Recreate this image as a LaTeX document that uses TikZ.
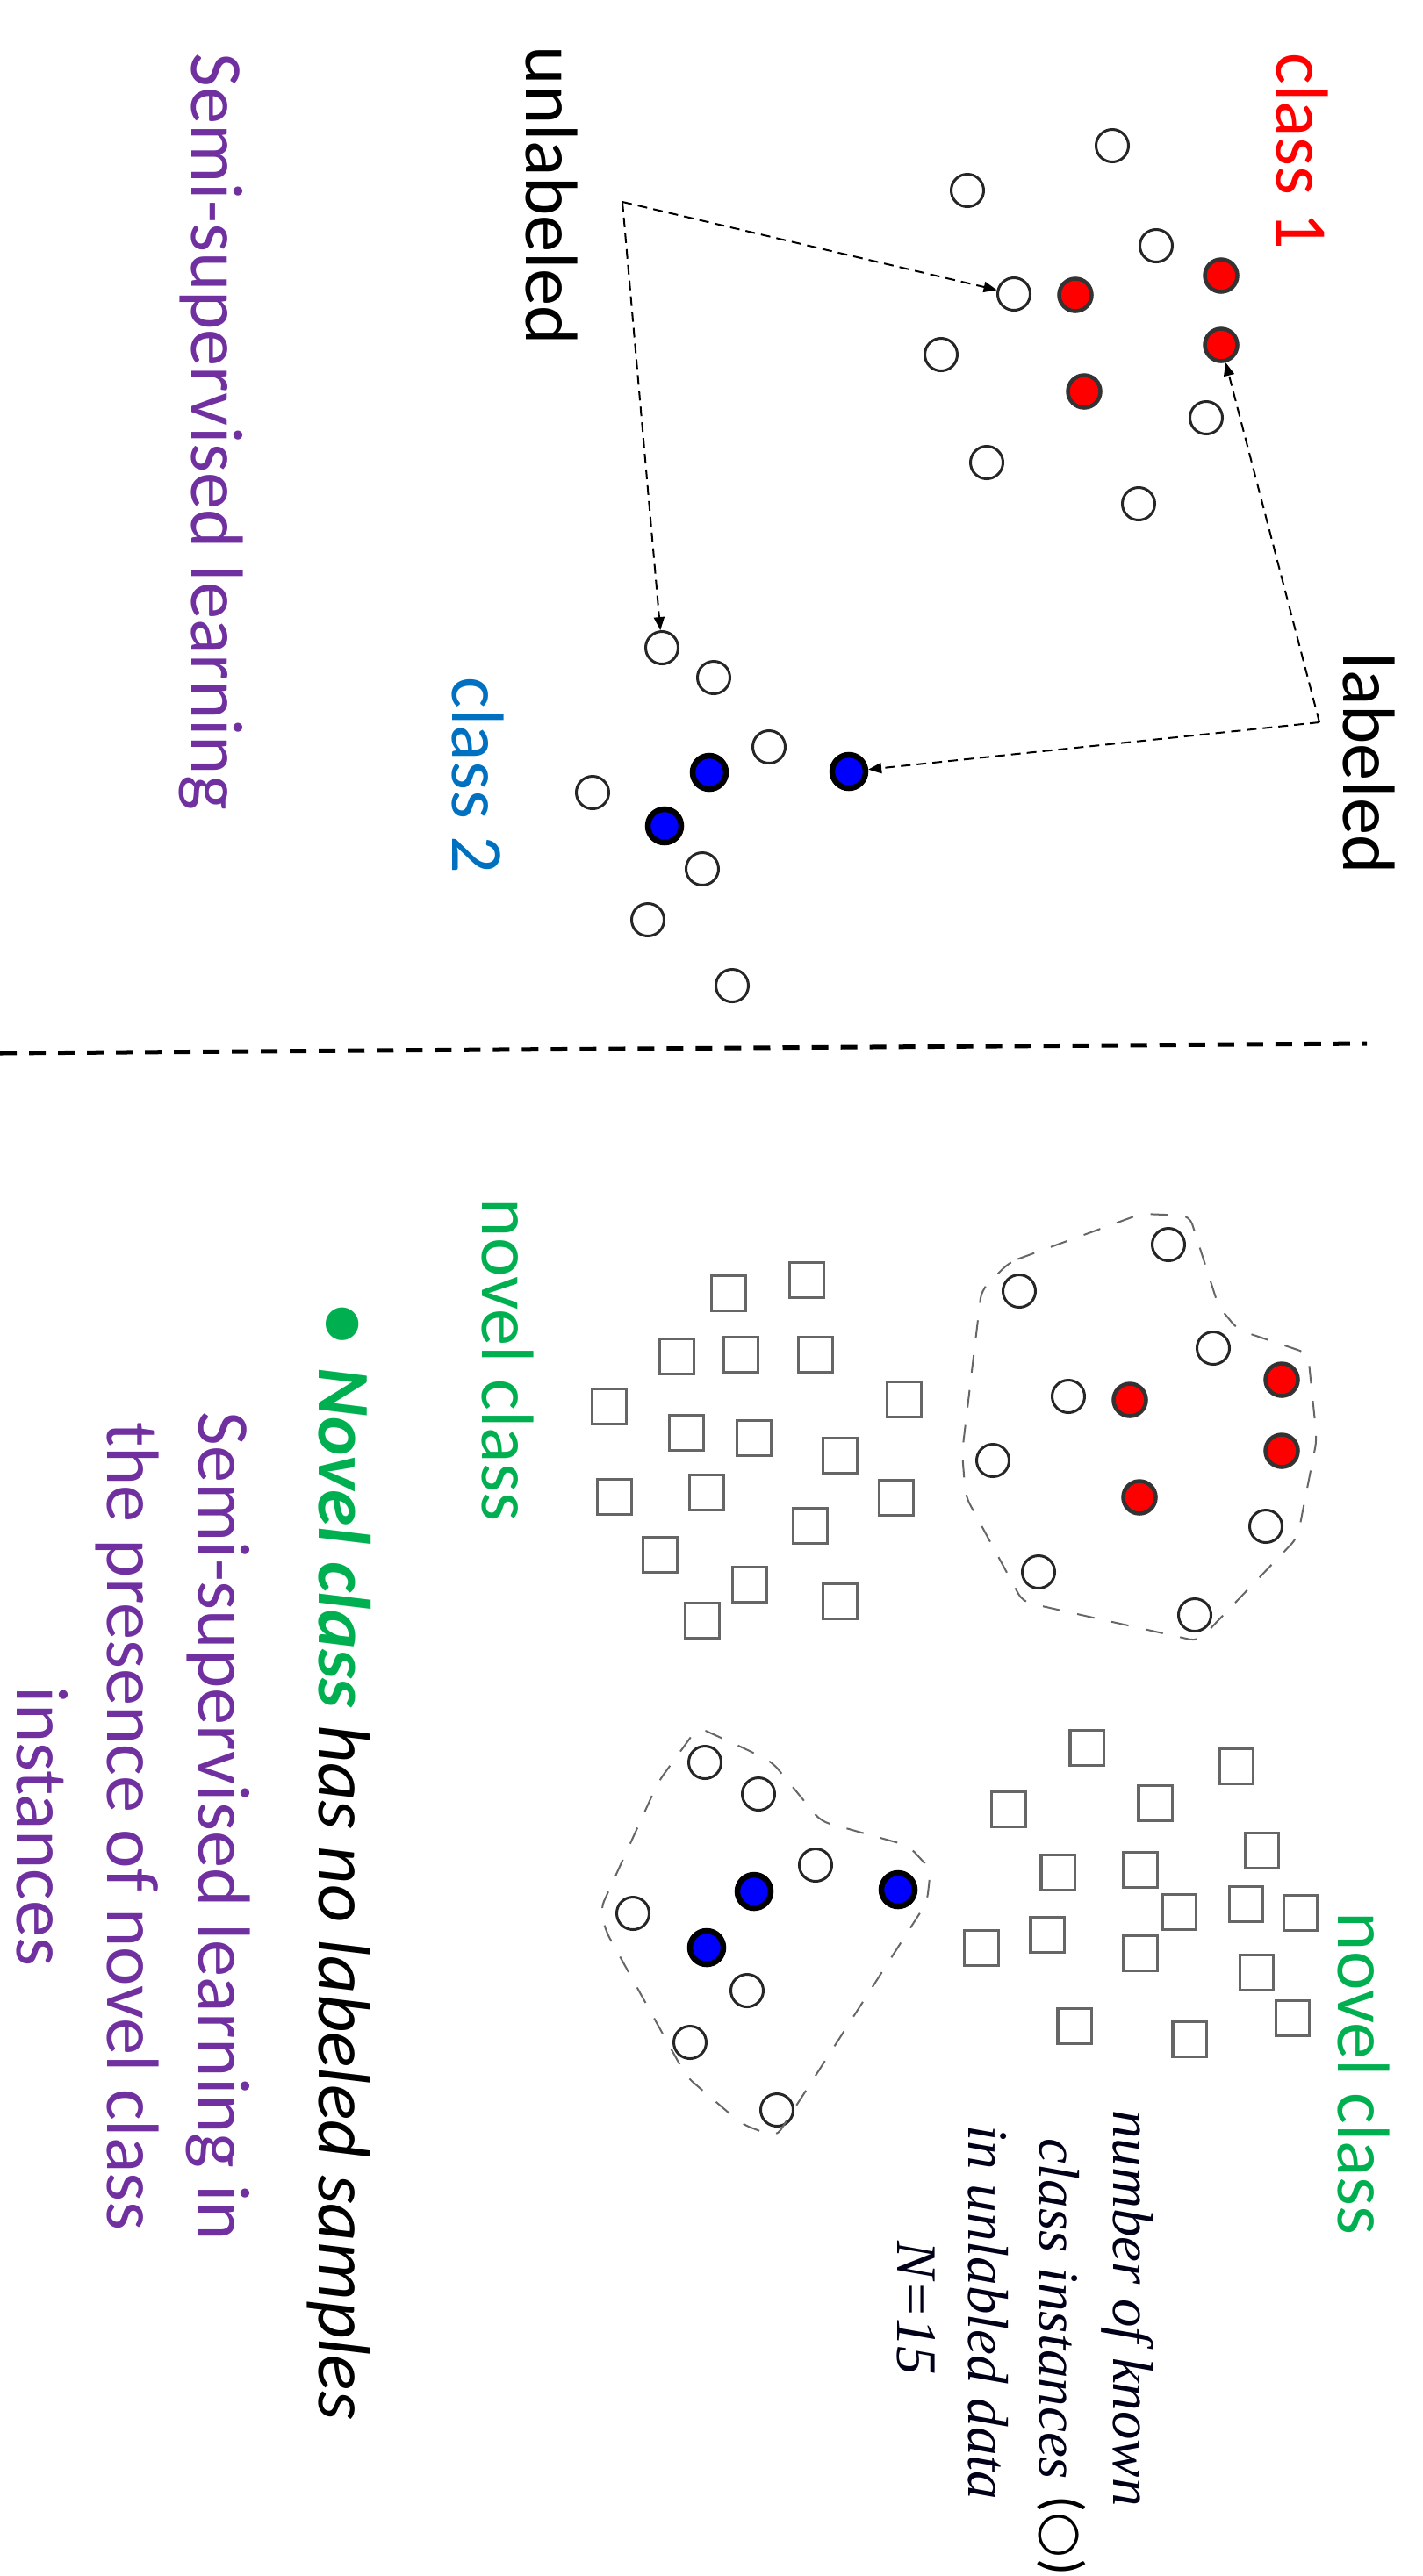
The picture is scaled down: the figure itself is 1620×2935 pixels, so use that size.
\documentclass[tikz,border=0pt]{standalone}
\usepackage{fontspec}
\setmainfont{Carlito}
\newfontfamily\timesfont{Liberation Serif}
\newfontfamily\symfont{DejaVu Sans}
\usepackage{tikz}
\usetikzlibrary{arrows.meta, shapes, positioning}
\definecolor{cred}{RGB}{255,0,0}
\definecolor{cblue}{RGB}{0,112,192}
\definecolor{cpurple}{RGB}{112,48,160}
\definecolor{cgreen}{RGB}{0,176,80}
\tikzstyle{unl}=[circle, draw=black!85, line width=0.03cm, minimum size=0.37cm, inner sep=0pt]
\tikzstyle{cone}=[unl, fill=red, draw=black!80, line width=0.045cm]
\tikzstyle{ctwo}=[unl, fill=blue, draw=black, line width=0.065cm, minimum size=0.38cm]
\tikzstyle{nov}=[rectangle, draw=black!60, line width=0.03cm, minimum width=0.38cm, minimum height=0.40cm, inner sep=0pt]
\tikzstyle{lbl}=[rotate=-90, anchor=base west, inner sep=0pt, font=\fontsize{24}{29.3}\selectfont]
\tikzstyle{lblc}=[lbl, anchor=base]
\tikzstyle{ser}=[rotate=-90, anchor=base, inner sep=0pt, text=black!90!blue, font=\timesfont\itshape\fontsize{18.5}{22}\selectfont]
\tikzstyle{hull}=[draw=black!60, line width=0.02cm, dash pattern=on 0.2cm off 0.2cm, rounded corners=0.1cm]
\tikzstyle{ptr}=[line width=0.02cm, dash pattern=on 0.11cm off 0.07cm, -{Triangle[length=0.15cm, width=0.12cm]}]

\begin{document}
\begin{tikzpicture}[x=0.01cm, y=-0.01cm]
 \useasboundingbox (0,0) rectangle (1620,2935);

 % labels of the upper half
 \node[lbl, text=cred] (c1) at (1454,60) {class 1};
 \node[lbl] (unlab) at (599,52) {unlabeled};
 \node[lbl, text=cpurple] (ssl) at (218,60) {Semi-supervised learning};
 \node[lbl] (lab) at (1530,743) {labeled};
 \node[lbl, text=cblue] (c2) at (515,771) {class 2};

 % class 1 and class 2 points
 \foreach \x/\y [count=\i] in {1267/166, 1102/217, 1317/280, 1155/335, 1072/404, 1374/476, 1124/527, 1297/574}
   \node[unl] (a\i) at (\x,\y) {};
 \foreach \x/\y [count=\i] in {1391/314, 1225/336, 1391/393, 1235/446}
   \node[cone] (r\i) at (\x,\y) {};
 \foreach \x/\y [count=\i] in {754/738, 813/772, 876/851, 675/903, 800/990, 738/1048, 834/1123}
   \node[unl] (b\i) at (\x,\y) {};
 \foreach \x/\y [count=\i] in {967/879, 808/880, 757/941}
   \node[ctwo] (u\i) at (\x,\y) {};

 \coordinate (ul) at (709,230);
 \coordinate (lb) at (1503,823);
 \draw[ptr] (ul) -- (a4);
 \draw[ptr] (ul) -- (b1);
 \draw[ptr] (lb) -- (r3);
 \draw[ptr] (lb) -- (u1);

 \draw[line width=0.05cm, dash pattern=on 0.19cm off 0.14cm] (0,1200) -- (1557,1189);

 % lower half: known classes with their hulls
 \foreach \x/\y [count=\i] in {1331/1418, 1161/1471, 1382/1536, 1217/1591, 1131/1664, 1442/1739, 1183/1791, 1361/1840}
   \node[unl] (k\i) at (\x,\y) {};
 \foreach \x/\y [count=\i] in {1460/1572, 1287/1595, 1460/1653, 1298/1706}
   \node[cone] (kr\i) at (\x,\y) {};
 \draw[hull] (1150,1438) -- (1300,1383) -- (1355,1385) -- (1388,1488) -- (1410,1515) -- (1490,1542) -- (1500,1640) -- (1478,1752) -- (1365,1870) -- (1165,1825) -- (1100,1705) -- (1096,1655) -- (1118,1470) -- cycle;

 \foreach \x/\y [count=\i] in {803/2008, 864/2044, 929/2125, 721/2180, 851/2268, 786/2327, 885/2404}
   \node[unl] (m\i) at (\x,\y) {};
 \foreach \x/\y [count=\i] in {1023/2153, 859/2155, 805/2219}
   \node[ctwo] (mu\i) at (\x,\y) {};
 \draw[hull] (795,1968) -- (850,1993) -- (880,2008) -- (935,2075) -- (1035,2103) -- (1060,2130) -- (1056,2167) -- (884,2435) -- (845,2420) -- (782,2366) -- (690,2200) -- (684,2175) -- (750,2030) -- cycle;

 % novel class instances
 \foreach \x/\y [count=\i] in {830/1473, 919/1458, 844/1543, 929/1543, 1030/1594, 771/1545, 694/1602, 859/1638, 782/1632, 957/1658, 700/1705, 805/1700, 1021/1706, 923/1738, 752/1771, 854/1805, 957/1824, 800/1846}
   \node[nov] (s\i) at (\x,\y) {};
 \foreach \x/\y [count=\i] in {1238/1991, 1408/2012, 1149/2061, 1316/2054, 1437/2108, 1205/2133, 1299/2130, 1343/2178, 1419/2169, 1481/2179, 1118/2219, 1193/2204, 1299/2225, 1431/2247, 1224/2308, 1472/2299, 1355/2323}
   \node[nov] (q\i) at (\x,\y) {};

 \node[lbl, text=cgreen] (nc1) at (549,1365) {novel class};
 \node[lbl, text=cgreen] (nc2) at (1524,2178) {novel class};

 \node[ser] (n1) at (1268,2630) {number of known};
 \node[ser] (n2) at (1184,2631) {class instances};
 \node[lbl, anchor=base west, font=\fontsize{18}{20}\selectfont] (n2s) at (1190,2843) {({\symfont\fontsize{17}{17}\selectfont ○})};
 \node[ser] (n3) at (1103,2635) {in unlabled data};
 \node[ser] (n4) at (1022,2630) {N=15};

 % bullet and closing text
 \node[lblc, text=cgreen, font=\fontsize{30}{30}\selectfont] (dot) at (360,1509) {•};
 \node[lbl] (bul) at (363,1558) {\textcolor{cgreen}{\textbf{\textit{Novel class}}} \textit{has no labeled samples}};
 \node[lblc, text=cpurple] (p1) at (226,2081) {Semi-supervised learning in};
 \node[lblc, text=cpurple] (p2) at (122,2081) {the presence of novel class};
 \node[lblc, text=cpurple] (p3) at (19,2081) {instances};
\end{tikzpicture}
\end{document}
